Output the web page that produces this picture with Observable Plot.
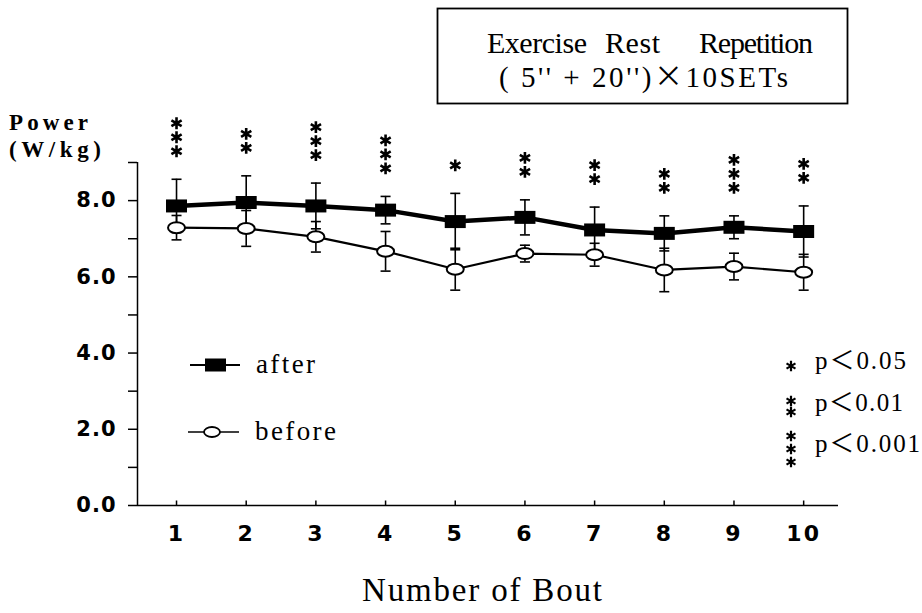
<!DOCTYPE html>
<html><head><meta charset="utf-8">
<script src="https://cdn.jsdelivr.net/npm/d3@7"></script>
<script src="https://cdn.jsdelivr.net/npm/@observablehq/plot@0.6"></script>
<style>
html,body{margin:0;padding:0;background:#fff;}
#wrap{position:relative;width:922px;height:613px;overflow:hidden;background:#fff;}
#wrap svg{position:absolute;left:0;top:0;}
g[aria-label="y-axis tick label"] text{letter-spacing:1px;}
g[aria-label="x-axis tick label"] text{letter-spacing:2px;}
</style></head><body><div id="wrap"></div>
<script>
// ---- data ----
const bouts = [1, 2, 3, 4, 5, 6, 7, 8, 9, 10];
const afterMean  = [7.86, 7.95, 7.86, 7.75, 7.45, 7.56, 7.23, 7.14, 7.30, 7.19];
const afterSD    = [0.70, 0.70, 0.60, 0.36, 0.74, 0.46, 0.60, 0.46, 0.30, 0.67];
const beforeMean = [7.29, 7.27, 7.05, 6.67, 6.20, 6.61, 6.58, 6.18, 6.27, 6.12];
const beforeSD   = [0.32, 0.47, 0.40, 0.52, 0.55, 0.22, 0.30, 0.57, 0.35, 0.47];
const starCount  = [3, 2, 3, 3, 1, 2, 2, 2, 3, 2];
const yTicks = [0, 1, 2, 3, 4, 5, 6, 7, 8, 9];
const xDomain = [0.44, 10.5];
const yDomain = [0, 9];
const seriesNames = ["after", "before"];
const pLevels = ["0.05", "0.01", "0.001"];
const boxLine1 = ["Exercise", "Rest", "Repetition"];
const boxLine2 = ["( 5'' + 20'')", "×", "10SETs"];
const yLabel = ["Power", "(W/kg)"];
const xLabel = "Number of Bout";

const rows = bouts.map((b, i) => ({
  bout: b, am: afterMean[i], asd: afterSD[i],
  bm: beforeMean[i], bsd: beforeSD[i], stars: starCount[i]
}));

// ---- custom symbols ----
const rectSym = {draw(ctx) { ctx.rect(-10.5, -6.5, 21, 13); }};
const ellipseSym = {draw(ctx) {
  const a = 8.5, b = 5.5, k = 0.5523;
  ctx.moveTo(a, 0);
  ctx.bezierCurveTo(a, b * k, a * k, b, 0, b);
  ctx.bezierCurveTo(-a * k, b, -a, b * k, -a, 0);
  ctx.bezierCurveTo(-a, -b * k, -a * k, -b, 0, -b);
  ctx.bezierCurveTo(a * k, -b, a, -b * k, a, 0);
  ctx.closePath();
}};
const capSym = {draw(ctx) { ctx.moveTo(-5, 0); ctx.lineTo(5, 0); }};
const tickSym = {draw(ctx) { ctx.moveTo(0, 0); ctx.lineTo(0, -5); }};

const tickFont = "'DejaVu Sans', Verdana, sans-serif";
const serif = "'Liberation Serif', 'Times New Roman', Times, serif";
const cjk = "'Noto Sans CJK JP', 'Noto Sans CJK SC', sans-serif";

const starMarks = [0, 1, 2].map(k => Plot.dot(rows.filter(d => d.stars > k), {
  x: "bout", y: d => d.am + d.asd, symbol: "asterisk", r: 5.6,
  stroke: "black", strokeWidth: 2.6, dy: -(28 + 14 * k)
}));

const chart = Plot.plot({
  width: 922, height: 613,
  marginLeft: 137, marginRight: 84, marginTop: 162, marginBottom: 108,
  style: {background: "transparent", color: "#000", fontFamily: tickFont},
  x: {type: "linear", domain: xDomain},
  y: {type: "linear", domain: yDomain},
  marks: [
    Plot.axisY({ticks: yTicks, tickSize: 9, tickPadding: 12, strokeWidth: 1.5,
      tickFormat: d => d % 2 === 0 ? d.toFixed(1) : "", fontSize: 21, fontWeight: "bold", label: null}),
    Plot.axisX({ticks: bouts, tickSize: 0, tickPadding: 20, fontSize: 22, fontWeight: "bold",
      tickFormat: d => String(d), label: null}),
    Plot.ruleX([xDomain[0]], {strokeWidth: 1.5}),
    Plot.ruleY([0], {strokeWidth: 1.5}),
    Plot.dot(bouts, {x: d => d, y: d => 0, symbol: tickSym, stroke: "black", strokeWidth: 1.5}),
    // error bars: before
    Plot.ruleX(rows, {x: "bout", y1: d => d.bm - d.bsd, y2: d => d.bm + d.bsd, strokeWidth: 1.6}),
    Plot.dot(rows, {x: "bout", y: d => d.bm - d.bsd, symbol: capSym, stroke: "black", strokeWidth: 1.6}),
    Plot.dot(rows, {x: "bout", y: d => d.bm + d.bsd, symbol: capSym, stroke: "black", strokeWidth: 1.6}),
    // error bars: after
    Plot.ruleX(rows, {x: "bout", y1: d => d.am - d.asd, y2: d => d.am + d.asd, strokeWidth: 1.6}),
    Plot.dot(rows, {x: "bout", y: d => d.am - d.asd, symbol: capSym, stroke: "black", strokeWidth: 1.6}),
    Plot.dot(rows, {x: "bout", y: d => d.am + d.asd, symbol: capSym, stroke: "black", strokeWidth: 1.6}),
    // lines
    Plot.line(rows, {x: "bout", y: "am", stroke: "black", strokeWidth: 4.5}),
    Plot.line(rows, {x: "bout", y: "bm", stroke: "black", strokeWidth: 2.2}),
    // markers
    Plot.dot(rows, {x: "bout", y: "bm", symbol: ellipseSym, fill: "white", stroke: "black", strokeWidth: 2}),
    Plot.dot(rows, {x: "bout", y: "am", symbol: rectSym, fill: "black", stroke: "none"}),
    ...starMarks
  ]
});

const wrap = document.getElementById("wrap");
wrap.appendChild(chart);

// ---- annotations overlay ----
const ov = d3.select(wrap).append("svg")
  .attr("width", 922).attr("height", 613)
  .style("pointer-events", "none");

// segments: array of [string, fontFamily|null]
function txt(x, y, segs, o = {}) {
  if (typeof segs === "string") segs = [[segs, null]];
  const t = ov.append("text")
    .attr("x", x).attr("y", y)
    .attr("font-family", o.family || serif)
    .attr("font-size", o.size || 22)
    .attr("font-weight", o.weight || "normal")
    .attr("text-anchor", o.anchor || "start")
    .attr("fill", "#000")
    .style("white-space", "pre");
  for (const [s, fam] of segs) {
    const sp = t.append("tspan").text(s);
    if (fam) sp.attr("font-family", fam).attr("font-weight", "normal");
  }
  if (o.len) t.attr("textLength", o.len).attr("lengthAdjust", "spacing");
  return t;
}

// y label
txt(9, 130, yLabel[0], {size: 23, weight: "bold", len: 79});
txt(9, 157, yLabel[1], {size: 23, weight: "bold", len: 92});

// box
ov.append("rect").attr("x", 437.5).attr("y", 8.5).attr("width", 410).attr("height", 95)
  .attr("fill", "none").attr("stroke", "#000").attr("stroke-width", 1.8);
txt(487, 53, boxLine1[0], {size: 30, len: 100});
txt(605, 53, boxLine1[1], {size: 30, len: 55});
txt(699, 53, boxLine1[2], {size: 30, len: 114});
txt(499, 87, [[boxLine2[0], null], [boxLine2[1], cjk], [boxLine2[2], null]], {size: 29, len: 289});

// series legend
ov.append("line").attr("x1", 190).attr("x2", 240).attr("y1", 365).attr("y2", 365)
  .attr("stroke", "#000").attr("stroke-width", 2);
ov.append("rect").attr("x", 205).attr("y", 358.5).attr("width", 21).attr("height", 13).attr("fill", "#000");
txt(256, 373, seriesNames[0], {size: 27, len: 59});
ov.append("line").attr("x1", 188).attr("x2", 239).attr("y1", 432).attr("y2", 432)
  .attr("stroke", "#000").attr("stroke-width", 1.5);
ov.append("ellipse").attr("cx", 212).attr("cy", 432).attr("rx", 8).attr("ry", 5)
  .attr("fill", "#fff").attr("stroke", "#000").attr("stroke-width", 1.8);
txt(255, 440, seriesNames[1], {size: 27, len: 81});

// significance legend
const starPath = d3.symbol(d3.symbolAsterisk, 75)();
function star(cx, cy) {
  ov.append("path").attr("d", starPath).attr("transform", `translate(${cx},${cy})`)
    .attr("fill", "none").attr("stroke", "#000").attr("stroke-width", 2.2);
}
star(791, 366);
star(791, 401); star(791, 412);
star(791, 436); star(791, 449); star(791, 462);
const pY = [369, 411, 452];
const pLen = [91, 88, 105];
pLevels.forEach((v, i) => {
  txt(815, pY[i], [["p", null], ["＜", cjk], [v, null]], {size: 25, len: pLen[i]});
});

// x label
txt(482, 601, xLabel, {size: 33, anchor: "middle", len: 240});
</script>
</body></html>
